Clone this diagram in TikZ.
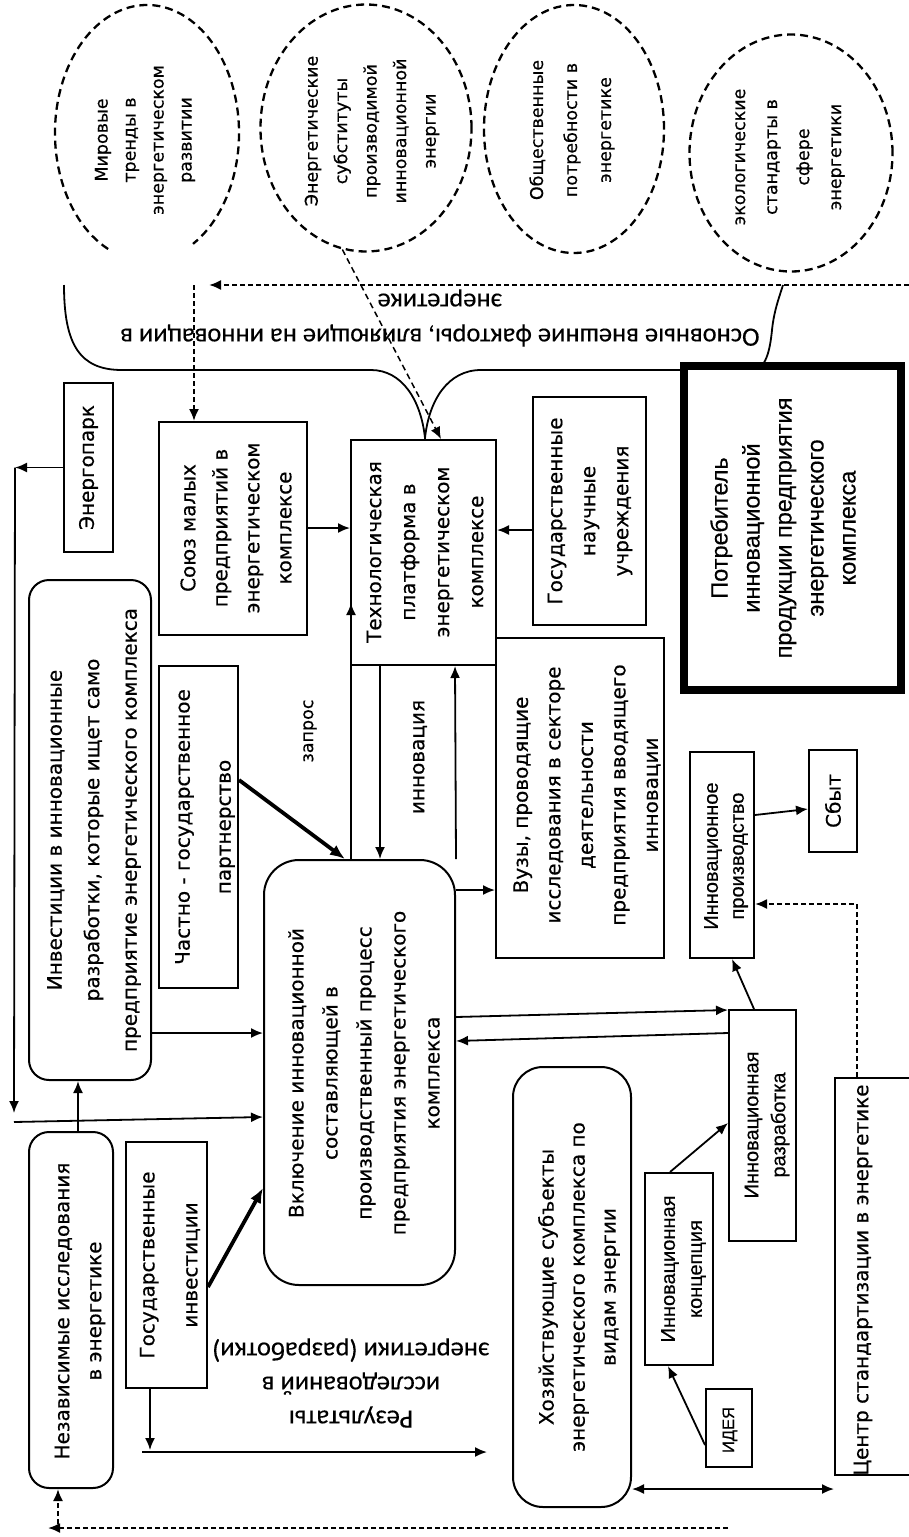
\documentclass[tikz,border=0pt]{standalone}
\usepackage{fontspec}
\setmainfont[FakeBold=0.4]{DejaVu Sans}
\newfontfamily\arialf[FakeBold=0.4]{Liberation Sans}
\newfontfamily\calibf[FakeBold=0.3]{Carlito}
\usetikzlibrary{arrows.meta,shapes.geometric}
\begin{document}
\begin{tikzpicture}[x=1pt,y=-1pt,
  box/.style={draw,line width=2pt,fill=white,inner sep=0pt,rectangle},
  rbox/.style={box,rounded corners=#1},
  txt/.style={rotate=90,align=center,inner sep=0pt},
  fs/.style 2 args={font=\fontsize{#1}{#2}\selectfont},
  afs/.style 2 args={font=\arialf\fontsize{#1}{#2}\selectfont},
  cfs/.style 2 args={font=\calibf\fontsize{#1}{#2}\selectfont},
  arr/.style={line width=1.8pt,-{Latex[length=12pt,width=10pt]}},
  darr/.style={line width=1.8pt,{Latex[length=12pt,width=10pt]}-{Latex[length=12pt,width=10pt]}},
  tarr/.style={line width=3.8pt,-{Latex[length=15pt,width=12pt]}},
  dsh/.style={dash pattern=on 5pt off 3pt,line width=2pt},
  ell/.style={draw,ellipse,dash pattern=on 8pt off 5pt,line width=2.3pt,inner sep=0pt},
]
\useasboundingbox (0,0) rectangle (909,1537);
\fill[white] (0,0) rectangle (909,1537);

% ---------- external factors (ellipses) ----------
\draw[dash pattern=on 8pt off 5pt,line width=2.3pt] (147,133) ++(115:92 and 128)
  arc[start angle=115,end angle=420,x radius=92,y radius=128];
\node[txt,fs={17.5}{28}] (e1t) at (145,140) {Мировые\\тренды в\\энергетическом\\развитии};
\node[ell,minimum width=211pt,minimum height=247pt] (e2) at (366,128) {};
\node[txt,fs={17.5}{29.5}] (e2t) at (372,131) {Энергетические\\субституты\\производимой\\инновационной\\энергии};
\node[ell,minimum width=180pt,minimum height=248pt] (e3) at (574,129) {};
\node[txt,fs={17.5}{34}] (e3t) at (572,130) {Общественные\\потребности в\\энергетике};
\node[ell,minimum width=203pt,minimum height=237pt] (e4) at (791,153) {};
\node[txt,fs={17.5}{32}] (e4t) at (790,157) {экологические\\стандарты в\\сфере\\энергетики};

% ---------- brace ----------
\draw[line width=1.8pt] (64,285) .. controls (64,345) and (80,370) .. (122,370) -- (371,370)
  .. controls (402,370) and (421,400) .. (425,438)
  .. controls (429,400) and (448,370) .. (481,370) -- (752,370)
  .. controls (766,370) and (770,350) .. (772,330)
  .. controls (774,310) and (780,295) .. (783,285);
\node[rotate=180,align=center,inner sep=0pt,cfs={26.5}{35}] (bracelbl) at (440,318)
  {Основные внешние факторы, влияющие на инновации в\\энергетике};

% ---------- boxes ----------
\node[box,minimum width=49pt,minimum height=169pt] (energopark) at (88.5,467.5) {};
\node[txt,fs={20}{33}] (energoparkt) at (energopark) {Энергопарк};

\node[rbox=20pt,minimum width=122pt,minimum height=500pt] (inv) at (90,830) {};
\node[txt,fs={20}{37.5}] (invt) at (94,830) {Инвестиции в инновационные\\разработки, которые ищет само\\предприятие энергетического комплекса};

\node[box,minimum width=79pt,minimum height=322pt] (chastno) at (198.5,827) {};
\node[txt,fs={20}{41}] (chastnot) at (205,827) {Частно - государственное\\партнерство};

\node[box,minimum width=148pt,minimum height=213pt] (soyuz) at (233,528.5) {};
\node[txt,fs={20}{32}] (soyuzt) at (236,528) {Союз малых\\предприятий в\\энергетическом\\комплексе};

\node[box,minimum width=145pt,minimum height=225pt] (tech) at (423.5,552.5) {};
\node[txt,fs={20}{34}] (techt) at (425,552) {Технологическая\\платформа в\\энергетическом\\комплексе};

\node[box,minimum width=113pt,minimum height=228pt] (gosnauch) at (589.5,511) {};
\node[txt,fs={20}{33}] (gosnaucht) at (590,511) {Государственные\\научные\\учреждения};

\node[box,minimum width=168pt,minimum height=320pt] (vuzy) at (580,798) {};
\node[txt,fs={20}{32.5}] (vuzyt) at (587,795) {Вузы, проводящие\\исследования в секторе\\деятельности\\предприятия вводящего\\инновации};

\node[rbox=35pt,minimum width=191pt,minimum height=425pt] (vkl) at (359.5,1072.5) {};
\node[txt,fs={20}{34}] (vklt) at (364,1073) {Включение инновационной\\составляющей в\\производственный процесс\\предприятия энергетического\\комплекса};

\node[box,minimum width=64pt,minimum height=206pt] (innprod) at (722,855) {};
\node[txt,afs={20}{26}] (innprodt) at (726,856) {Инновационное\\производство};

\node[box,minimum width=48pt,minimum height=102pt] (sbyt) at (833,801) {};
\node[txt,fs={20}{26}] (sbytt) at (sbyt) {Сбыт};

\node[box,minimum width=67pt,minimum height=231pt] (innrazr) at (762.5,1125.5) {};
\node[txt,afs={20}{27}] (innrazrt) at (767,1125) {Инновационная\\разработка};

\node[box,minimum width=68pt,minimum height=192pt] (innkonc) at (679,1269) {};
\node[txt,afs={20}{27}] (innkonct) at (683.5,1269) {Инновационная\\концепция};

\node[box,minimum width=46pt,minimum height=78pt] (ideya) at (729,1428) {};
\node[txt,afs={16.5}{20}] (ideyat) at (730,1430) {ИДЕЯ};

\node[rbox=30pt,minimum width=118pt,minimum height=440pt] (hoz) at (572,1287) {};
\node[txt,fs={20}{31}] (hozt) at (579,1287) {Хозяйствующие субъекты\\энергетического комплекса по\\видам энергии};

\node[box,minimum width=115pt,minimum height=397pt] (centr) at (892.5,1276.5) {};
\node[txt,fs={20}{30}] (centrt) at (863,1280) {Центр стандартизации в энергетике};

\node[rbox=20pt,minimum width=84pt,minimum height=356pt] (nezav) at (71,1310) {};
\node[txt,fs={20}{32}] (nezavt) at (80,1311) {Независимые исследования\\в энергетике};

\node[box,minimum width=81pt,minimum height=246pt] (gosinv) at (166.5,1265) {};
\node[txt,fs={20}{43}] (gosinvt) at (170,1265) {Государственные\\инвестиции};

\node[box,line width=8pt,minimum width=217pt,minimum height=324pt] (cons) at (792.5,528) {};
\node[txt,afs={23.5}{32}] (const) at (783,528) {Потребитель\\инновационной\\продукции предприятия\\энергетического\\комплекса};

% ---------- labels ----------
\node[txt,fs={17.5}{22}] (zapros) at (310,731) {запрос};
\node[txt,fs={20}{24}] (innov) at (420,757) {инновация};
\node[rotate=180,align=center,inner sep=0pt,cfs={26.5}{34}] (reslbl) at (351,1383)
  {Результаты\\исследований в\\энергетики (разработки)};

% ---------- coordinates ----------
\coordinate (lvtop) at (15,467.5);
\coordinate (lvbot) at (14,1113);
\coordinate (lhor) at (14,1122);
\coordinate (zq) at (351,603);
\coordinate (gdown) at (150,1450);
\coordinate (resL) at (142,1452);
\coordinate (resR) at (487,1452);
\coordinate (stdc) at (857,904);
\coordinate (bdR) at (728,1528);
\coordinate (bdL) at (48,1528);
\coordinate (bdU) at (58,1524);
\coordinate (tdR) at (909,285);
\coordinate (tdL) at (209,285);
\coordinate (tdD) at (194,285);

% ---------- connectors ----------
\draw[arr] (energopark.west) -- (lvtop);
\draw[arr] (lvtop) -- (lvbot);
\draw[arr] (lhor) -- (vkl.west |- 0,1117);
\draw[arr] (nezav.north -| 78,0) -- (inv.south -| 78,0);
\draw[arr] (inv.east |- 0,1033) -- (vkl.west |- 0,1033);
\draw[tarr] (chastno.east |- 0,780) -- (vkl.north -| 345,0);
\draw[tarr] (gosinv.east |- 0,1287) -- (vkl.west |- 0,1188);
\draw[arr] (gosinv.south -| gdown) -- (gdown);
\draw[arr] (resL) -- (resR);
\draw[arr] (soyuz.east |- 0,528) -- (tech.west |- 0,528);
\draw[arr] (gosnauch.west |- 0,530) -- (tech.east |- 0,530);
\draw[arr] (vkl.north -| zq) -- (zq);
\draw[arr] (tech.south -| 380,0) -- (vkl.north -| 380,0);
\draw[arr] (vkl.north east) -- (tech.south -| 455,0);
\draw[arr] (vkl.east |- 0,890) -- (vuzy.west |- 0,890);
\draw[arr] (vkl.east |- 0,1017) -- (innrazr.west |- 0,1010);
\draw[arr] (innrazr.west |- 0,1033) -- (vkl.east |- 0,1041);
\draw[arr] (innrazr.north -| 754,0) -- (innprod.south -| 732,0);
\draw[arr] (innprod.east |- 0,815) -- (sbyt.west |- 0,809);
\draw[arr,dsh] (centr.north -| stdc) -- (stdc) -- (innprod.east |- stdc);
\draw[arr] (innkonc.north -| 670,0) -- (innrazr.west |- 0,1123);
\draw[arr] (ideya.west |- 0,1445) -- (innkonc.south -| 668,0);
\draw[darr] (hoz.east |- 0,1489) -- (centr.west |- 0,1489);
\draw[arr,dsh] (bdR) -- (bdL);
\draw[arr,dsh] (bdU) -- (nezav.south -| bdU);
\draw[arr,dsh] (tdR) -- (tdL);
\draw[arr,dsh] (tdD) -- (soyuz.north -| tdD);
\draw[arr,dash pattern=on 6pt off 4pt,line width=1.5pt] (e2.259) -- (tech.north -| 441,0);
\end{tikzpicture}
\end{document}
